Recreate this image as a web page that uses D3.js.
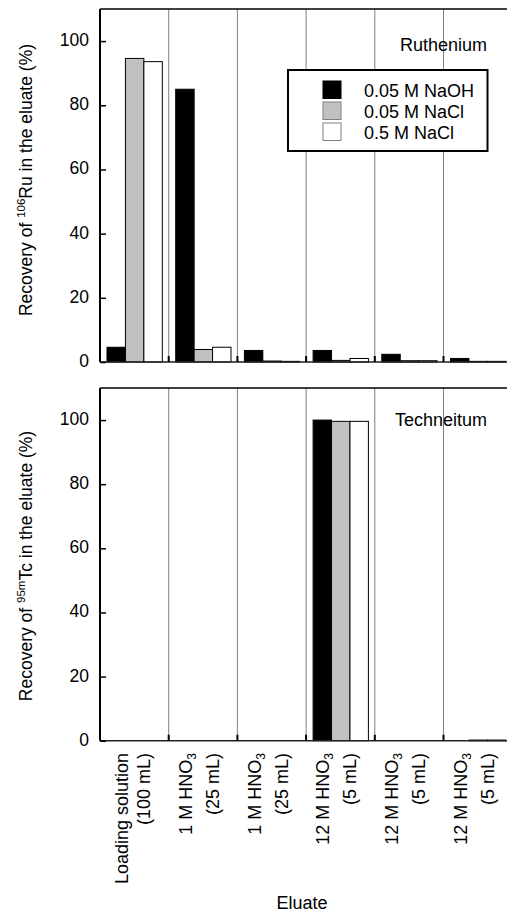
<!DOCTYPE html>
<html>
<head>
<meta charset="utf-8">
<script src="https://cdn.jsdelivr.net/npm/d3@7"></script>
<style>
  html, body { margin: 0; padding: 0; background: #fff; }
  svg { display: block; font-family: "Liberation Sans", Arial, sans-serif; }
</style>
</head>
<body>
<svg id="chart" width="507" height="912"></svg>
<script>
// ---- data ----
const categories = ["c1", "c2", "c3", "c4", "c5", "c6"];
const labelLine1 = ["Loading solution", "1 M HNO", "1 M HNO", "12 M HNO", "12 M HNO", "12 M HNO"];
const labelSub1  = ["", "3", "3", "3", "3", "3"];
const labelLine2 = ["(100 mL)", "(25 mL)", "(25 mL)", "(5 mL)", "(5 mL)", "(5 mL)"];
const seriesNames = ["0.05 M NaOH", "0.05 M NaCl", "0.5 M NaCl"];
const seriesColors = ["#000000", "#c0c0c0", "#ffffff"];
// Ruthenium recovery (%)
const ruNaOH  = [4.6, 85.0, 3.6, 3.6, 2.4, 1.1];
const ruNaCl  = [94.6, 3.9, 0.3, 0.5, 0.4, 0.2];
const ruNaCl5 = [93.6, 4.6, 0.2, 1.1, 0.4, 0.2];
// Technetium recovery (%)
const tcNaOH  = [0, 0, 0, 100.0, 0, 0];
const tcNaCl  = [0, 0, 0, 99.6, 0, 0.2];
const tcNaCl5 = [0, 0, 0, 99.6, 0, 0.2];
const yTicks = [0, 20, 40, 60, 80, 100];

const svg = d3.select("#chart");
const x0 = d3.scaleBand().domain(categories).range([100, 512.2]).padding(0);
const x1 = d3.scaleBand().domain(seriesNames).range([7, 62.3]).padding(0);

function panel(cfg) {
  const y = d3.scaleLinear().domain([0, 110]).range([cfg.bottom, cfg.top]);
  const g = svg.append("g");
  // gridlines
  g.selectAll("line.grid").data(categories.slice(1)).enter().append("line")
    .attr("x1", d => x0(d)).attr("x2", d => x0(d))
    .attr("y1", cfg.top).attr("y2", cfg.bottom)
    .attr("stroke", "#808080").attr("stroke-width", 1);
  // bars
  const seriesData = cfg.series;
  categories.forEach((c, i) => {
    seriesNames.forEach((s, j) => {
      const v = seriesData[j][i];
      g.append("rect")
        .attr("x", x0(c) + x1(s))
        .attr("width", x1.bandwidth())
        .attr("y", y(v))
        .attr("height", Math.max(0, y(0) - y(v)))
        .attr("fill", seriesColors[j])
        .attr("stroke", "#000").attr("stroke-width", 1);
    });
  });
  // top border
  g.append("line").attr("x1", 100).attr("x2", 507).attr("y1", cfg.top).attr("y2", cfg.top)
    .attr("stroke", "#000").attr("stroke-width", 1.5);
  // baseline
  g.append("line").attr("x1", 100).attr("x2", 507).attr("y1", cfg.bottom).attr("y2", cfg.bottom)
    .attr("stroke", "#222").attr("stroke-width", 1.5);
  // x ticks (inward)
  g.selectAll("line.xt").data(categories.slice(1)).enter().append("line")
    .attr("x1", d => x0(d)).attr("x2", d => x0(d))
    .attr("y1", cfg.bottom).attr("y2", cfg.bottom - 6)
    .attr("stroke", "#000").attr("stroke-width", 2);
  // y axis
  const ax = d3.axisLeft(y).tickValues(yTicks).tickSizeInner(-6).tickSizeOuter(0).tickPadding(11);
  const axg = g.append("g").attr("transform", "translate(100,0)").call(ax);
  axg.select(".domain").attr("stroke", "#000").attr("stroke-width", 2)
    .attr("d", `M0,${cfg.top}V${cfg.bottom}`);
  axg.selectAll(".tick line").attr("stroke", "#000").attr("stroke-width", 1.5);
  axg.selectAll(".tick text").attr("font-size", 17.5).attr("fill", "#000")
    .attr("dy", null).attr("y", 4.5).attr("font-family", "Liberation Sans, Arial, sans-serif");
  // panel title
  g.append("text").attr("x", 487).attr("y", cfg.titleY).attr("text-anchor", "end")
    .attr("font-size", 18).text(cfg.title);
  // y axis title
  const t = g.append("text")
    .attr("transform", `translate(32,${cfg.labelCy}) rotate(-90)`)
    .attr("text-anchor", "middle").attr("font-size", 17.5);
  t.append("tspan").text("Recovery of ");
  t.append("tspan").attr("font-size", 11.5).attr("dy", -7).text(cfg.sup);
  t.append("tspan").attr("dy", 7).text(cfg.elem + " in the eluate (%)");
  return y;
}

panel({ top: 9, bottom: 362, series: [ruNaOH, ruNaCl, ruNaCl5], title: "Ruthenium", titleY: 51,
        sup: "106", elem: "Ru", labelCy: 180 });
panel({ top: 388, bottom: 740.7, series: [tcNaOH, tcNaCl, tcNaCl5], title: "Techneitum", titleY: 426,
        sup: "95m", elem: "Tc", labelCy: 566 });

// legend
const lg = svg.append("g");
lg.append("rect").attr("x", 288).attr("y", 70).attr("width", 199.5).attr("height", 81)
  .attr("fill", "#fff").attr("stroke", "#000").attr("stroke-width", 2);
seriesNames.forEach((s, i) => {
  const yy = 81 + i * 21;
  lg.append("rect").attr("x", 323).attr("y", yy).attr("width", 18).attr("height", 17.5)
    .attr("fill", seriesColors[i]).attr("stroke", i === 0 ? "#000" : "#808080").attr("stroke-width", 1);
  lg.append("text").attr("x", 364).attr("y", yy + 15.5).attr("font-size", 18).text(s);
});

// x category labels
categories.forEach((c, i) => {
  const cx = x0(c) + x0.bandwidth() / 2;
  const off1 = labelSub1[i] ? -11 : -6;
  const t1 = svg.append("text")
    .attr("transform", `translate(${cx + off1},753) rotate(-90)`)
    .attr("text-anchor", "end").attr("font-size", 18);
  t1.append("tspan").text(labelLine1[i]);
  if (labelSub1[i]) t1.append("tspan").attr("font-size", 12).attr("dy", 4).text(labelSub1[i]);
  svg.append("text")
    .attr("transform", `translate(${cx + 16},753) rotate(-90)`)
    .attr("text-anchor", "end").attr("font-size", 18).text(labelLine2[i]);
});

// x axis title
svg.append("text").attr("x", 302).attr("y", 909).attr("text-anchor", "middle")
  .attr("font-size", 18).text("Eluate");
</script>
</body>
</html>
